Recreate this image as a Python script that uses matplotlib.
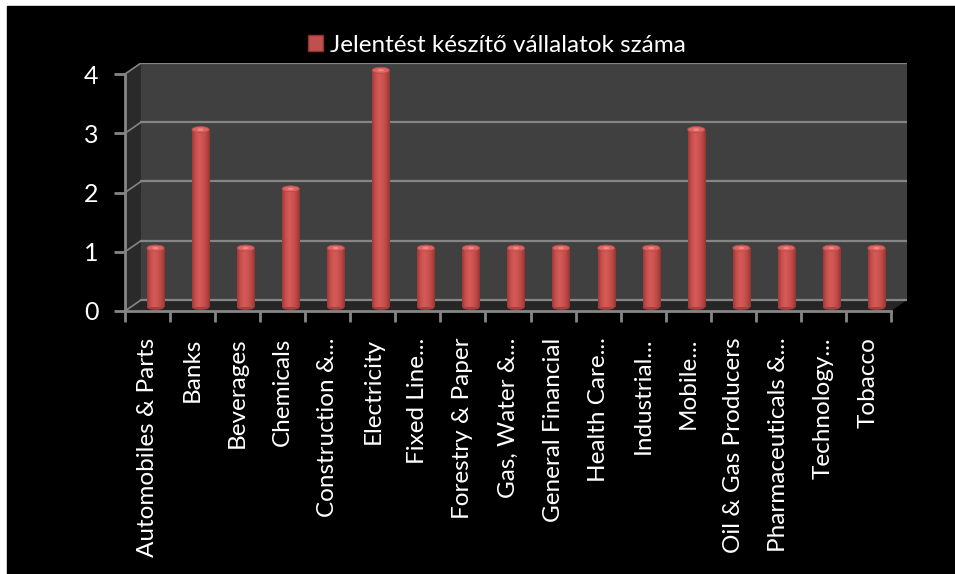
"""Recreate the 3D-look cylinder column chart (Hungarian legend) with matplotlib."""

import numpy as np
import matplotlib
matplotlib.use("Agg")
import matplotlib.pyplot as plt
from matplotlib.patches import Rectangle, Polygon, Ellipse
from matplotlib.colors import LinearSegmentedColormap

categories = [
    "Automobiles & Parts", "Banks", "Beverages", "Chemicals", "Construction &...",
    "Electricity", "Fixed Line...", "Forestry & Paper", "Gas, Water &...",
    "General Financial", "Health Care...", "Industrial...", "Mobile...",
    "Oil & Gas Producers", "Pharmaceuticals &...", "Technology...", "Tobacco",
]
values = [1, 3, 1, 2, 1, 4, 1, 1, 1, 1, 1, 1, 3, 1, 1, 1, 1]
y_ticks = [0, 1, 2, 3, 4]
series_name = "Jelentést készítő vállalatok száma"

plt.rcParams["font.family"] = ["Lato", "DejaVu Sans"]

W, H = 955, 574
fig = plt.figure(figsize=(W / 100, H / 100), dpi=100)
fig.patch.set_facecolor("white")
# black chart area, leaving the thin white strip top/left
fig.patches.append(Rectangle((7 / W, 0), 1 - 7 / W, (H - 6) / H,
                             transform=fig.transFigure, color="black", zorder=-10))

n = len(categories)
x = np.arange(n)
d = 0.355    # depth offset in category units
dy = 0.186   # depth offset in value units
ymax = 4

left_px, right_px, top_px, bot_px = 125, 907, 63, 311
ax = fig.add_axes([left_px / W, 1 - bot_px / H, (right_px - left_px) / W, (bot_px - top_px) / H])
ax.set_facecolor("none")

x0, x1 = -0.5, n - 0.5
grid_c = "#858585"

# walls and floor
ax.add_patch(Polygon([(x0 + d, dy), (x1 + d, dy), (x1 + d, ymax + dy), (x0 + d, ymax + dy)],
                     closed=True, facecolor="#404040", edgecolor="none", zorder=1))
ax.add_patch(Polygon([(x0, 0), (x0 + d, dy), (x0 + d, ymax + dy), (x0, ymax)],
                     closed=True, facecolor="#2a2a2a", edgecolor="none", zorder=1))
ax.add_patch(Polygon([(x0, 0), (x1, 0), (x1 + d, dy), (x0 + d, dy)],
                     closed=True, facecolor="#262626", edgecolor="none", zorder=1))

for t in y_ticks:
    ax.plot([x0 + d, x1 + d], [t + dy, t + dy], color=grid_c, lw=1.6, zorder=2)
    ax.plot([x0, x0 + d], [t, t + dy], color=grid_c, lw=1.2, zorder=2)

# cylinders
bw = 0.38
cmap = LinearSegmentedColormap.from_list(
    "cyl", ["#9e3a38", "#c94f4c", "#d45b58", "#cd5451", "#bb4845", "#933533"])
grad = np.linspace(0, 1, 64).reshape(1, -1)
bars = ax.bar(x + d / 2, values, width=bw, bottom=dy / 2 - 0.03, color="#c0504d",
              edgecolor="none", zorder=3)
for b, v in zip(bars, values):
    bx, by = b.get_x(), b.get_y()
    im = ax.imshow(grad, cmap=cmap, aspect="auto", zorder=3.5,
                   extent=(bx, bx + bw, by, by + v), origin="lower")
    im.set_clip_path(b)
    ax.add_patch(Ellipse((bx + bw / 2, by), bw, 0.09,
                         facecolor="#a63e3c", edgecolor="none", zorder=2.9))
    ax.add_patch(Ellipse((bx + bw / 2, by + v), bw, 0.1,
                         facecolor="#dd6662", edgecolor="#b84a47", lw=0.6, zorder=4))
    ax.add_patch(Ellipse((bx + bw / 2, by + v), bw * 0.35, 0.04,
                         facecolor="#f08a86", edgecolor="none", zorder=4.1))

ax.set_xlim(x0, x1 + d)
ax.set_ylim(0, ymax + dy)

# axes lines and ticks
for s in ["top", "right"]:
    ax.spines[s].set_visible(False)
ax.spines["left"].set_bounds(0, ymax)
ax.spines["bottom"].set_bounds(x0, x1)
for s in ["left", "bottom"]:
    ax.spines[s].set_color(grid_c)
    ax.spines[s].set_linewidth(2)
    ax.spines[s].set_zorder(5)

ax.set_yticks(y_ticks)
ax.set_yticklabels([str(t) for t in y_ticks])
ax.tick_params(axis="y", colors=grid_c, labelcolor="white", length=8, width=2,
               labelsize=18, pad=11)
ax.set_xticks(np.arange(n + 1) - 0.5)
ax.set_xticklabels([])
ax.set_xticks(x, minor=True)
ax.set_xticklabels(categories, minor=True, rotation=90, ha="center", va="top")
ax.tick_params(axis="x", which="major", colors=grid_c, length=8, width=2)
ax.tick_params(axis="x", which="minor", length=0, labelcolor="white",
               labelsize=17.5, pad=19)

handle = Rectangle((0, 0), 1, 1, facecolor="#c0504d", edgecolor="#8f3331")
fig.legend([handle], [series_name], loc="center", bbox_to_anchor=(497 / W, 1 - 45 / H),
           frameon=False, labelcolor="white", fontsize=17.5, handlelength=0.6,
           handleheight=0.6, handletextpad=0.3)

fig.savefig("out.png", dpi=100, facecolor="white")
